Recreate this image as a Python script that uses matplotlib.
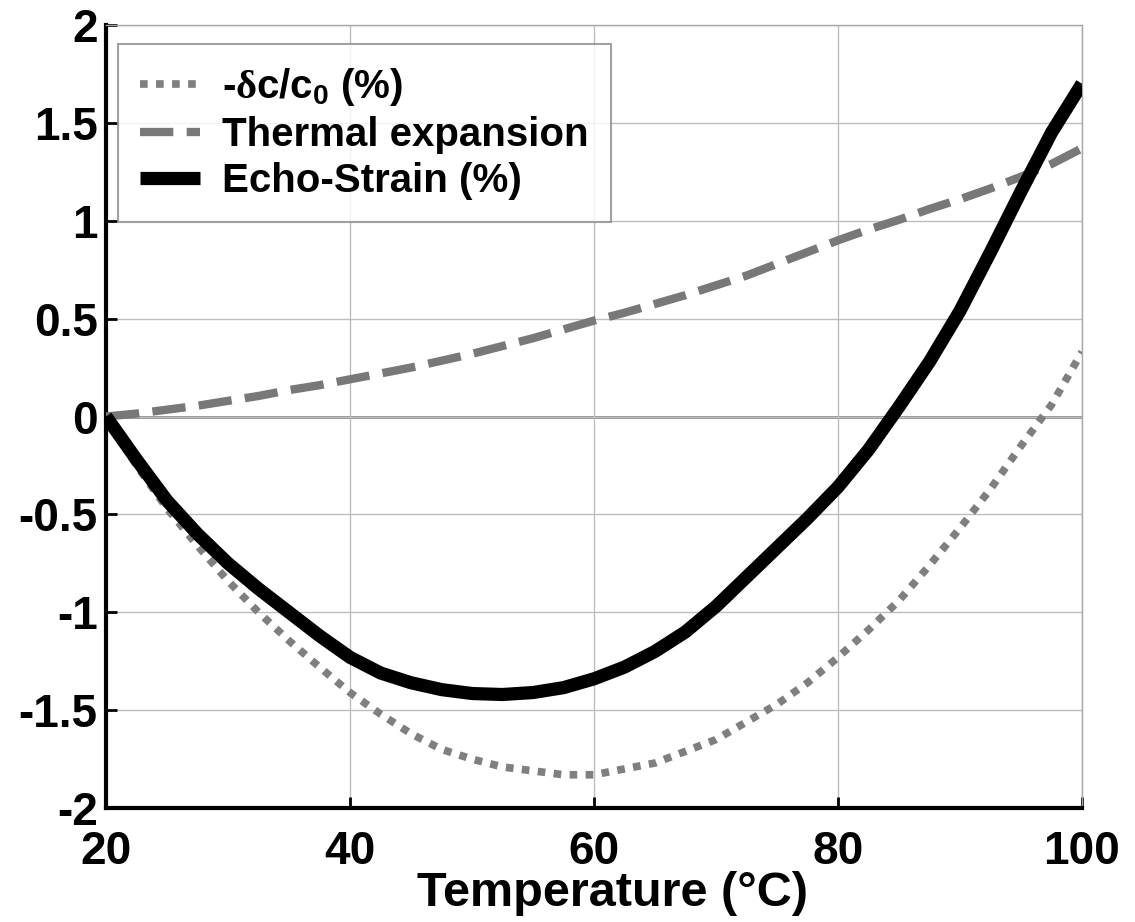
import matplotlib
matplotlib.use("Agg")
import matplotlib.pyplot as plt

# temperature grid (deg C) and the three curves
temp = [20, 22.5, 25, 27.5, 30, 32.5, 35, 37.5, 40,
        42.5, 45, 47.5, 50, 52.5, 55, 57.5, 60,
        62.5, 65, 67.5, 70, 72.5, 75, 77.5, 80,
        82.5, 85, 87.5, 90, 92.5, 95, 97.5, 100]

dc_c0 = [0, -0.25, -0.47, -0.66, -0.84, -1.0, -1.145, -1.28, -1.41,
         -1.52, -1.62, -1.7, -1.75, -1.79, -1.81, -1.83, -1.83,
         -1.8, -1.77, -1.71, -1.65, -1.56, -1.47, -1.36, -1.23,
         -1.09, -0.94, -0.76, -0.57, -0.37, -0.15, 0.06, 0.33]

thermal = [0, 0.015, 0.035, 0.055, 0.08, 0.105, 0.135, 0.16, 0.19,
           0.22, 0.25, 0.285, 0.32, 0.36, 0.4, 0.445, 0.49,
           0.53, 0.575, 0.62, 0.67, 0.72, 0.78, 0.84, 0.9,
           0.955, 1.005, 1.06, 1.11, 1.165, 1.225, 1.29, 1.37]

echo = [0, -0.22, -0.43, -0.6, -0.75, -0.88, -1.0, -1.12, -1.23,
        -1.31, -1.36, -1.395, -1.415, -1.42, -1.41, -1.385, -1.34,
        -1.28, -1.2, -1.1, -0.97, -0.82, -0.67, -0.52, -0.36,
        -0.17, 0.05, 0.28, 0.54, 0.84, 1.15, 1.45, 1.7]

x_ticks = [20, 40, 60, 80, 100]
y_ticks = [-2, -1.5, -1, -0.5, 0, 0.5, 1, 1.5, 2]
y_tick_labels = ["-2", "-1.5", "-1", "-0.5", "0", "0.5", "1", "1.5", "2"]

labels = [r"-$\mathrm{\delta}$c/c$_\mathsf{0}$ (%)", "Thermal expansion", "Echo-Strain (%)"]

plt.rcParams["font.family"] = ["Liberation Sans", "DejaVu Sans"]
plt.rcParams["font.weight"] = "bold"
plt.rcParams["mathtext.fontset"] = "custom"
plt.rcParams["mathtext.rm"] = "Liberation Serif"
plt.rcParams["mathtext.sf"] = "Liberation Sans:bold"

fig = plt.figure(figsize=(11.35, 9.22), dpi=100)
ax = fig.add_axes([0.0934, 0.1236, 0.8599, 0.8493])

ax.grid(True, color="#bdbdbd", lw=1.0)
ax.axhline(0, color="#8a8a8a", lw=2.0, zorder=1)

ax.plot(temp, dc_c0, color="#7f7f7f", lw=5.5, linestyle=(0, (1, 1.1)),
        dash_capstyle="butt", label=labels[0], zorder=3)
ax.plot(temp, thermal, color="#787878", lw=6, linestyle=(0, (4, 1.6)),
        dash_capstyle="butt", label=labels[1], zorder=3)
ax.plot(temp, echo, color="black", lw=9.5, solid_capstyle="butt",
        solid_joinstyle="round", label=labels[2], zorder=4)

ax.set_xlim(20, 100)
ax.set_ylim(-2, 2)
ax.set_xticks(x_ticks)
ax.set_yticks(y_ticks)
ax.set_yticklabels(y_tick_labels)
ax.tick_params(direction="in", length=8, width=2, labelsize=33,
               top=False, right=False)
ax.tick_params(axis="x", pad=16)
ax.tick_params(axis="y", pad=6)

for s in ["left", "bottom"]:
    ax.spines[s].set_linewidth(3)
    ax.spines[s].set_color("black")
for s in ["top", "right"]:
    ax.spines[s].set_linewidth(1.0)
    ax.spines[s].set_color("#a8a8a8")

ax.set_xlabel("Temperature (°C)", fontsize=35, fontweight="bold")
ax.xaxis.set_label_coords(0.519, -0.081)

leg = ax.legend(loc="upper left", bbox_to_anchor=(0.012, 0.976),
                fontsize=29, frameon=True, fancybox=False, borderaxespad=0,
                handlelength=1.5, handletextpad=0.55, borderpad=0.55,
                labelspacing=0.2)
leg.get_frame().set_edgecolor("#8a8a8a")
leg.get_frame().set_linewidth(1.5)

fig.savefig("out.png", dpi=100)
